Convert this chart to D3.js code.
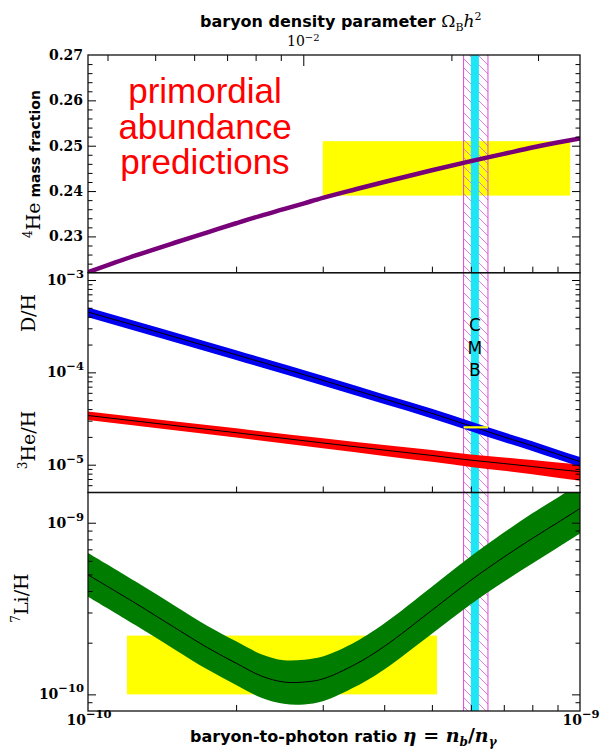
<!DOCTYPE html>
<html>
<head>
<meta charset="utf-8">
<script src="https://cdn.jsdelivr.net/npm/d3@7"></script>
<style>
  html, body { margin: 0; padding: 0; background: #fff; }
  svg { display: block; }
</style>
</head>
<body>
<svg id="chart" width="602" height="753"></svg>
<script>
// ---- Data (baryon-to-photon ratio in units of 1e-10) ----
const etaHe = [1, 1.25, 1.5, 1.75, 2, 2.25, 2.5, 2.75, 3, 3.5, 4, 5, 6, 7, 8, 9, 10];
const heYp  = [0.2221, 0.2258, 0.2286, 0.2309, 0.2329, 0.2346, 0.2360, 0.2373, 0.2385,
               0.2404, 0.2420, 0.2446, 0.2466, 0.2482, 0.2496, 0.2507, 0.2516];

const etaCoarse = [1, 2, 3, 4, 5, 6, 7, 8, 9, 10];
const dhValues  = [4.5e-4, 1.55e-4, 8.2e-5, 5.15e-5, 3.6e-5, 2.62e-5, 2.0e-5, 1.6e-5, 1.3e-5, 1.08e-5];
const dhRelErr  = [0.12, 0.12, 0.12, 0.12, 0.12, 0.12, 0.12, 0.12, 0.12, 0.12];
const he3Values = [3.41e-5, 2.22e-5, 1.72e-5, 1.44e-5, 1.26e-5, 1.12e-5, 1.03e-5, 9.55e-6, 8.9e-6, 8.4e-6];
const he3RelErr = [0.105, 0.115, 0.125, 0.135, 0.145, 0.155, 0.165, 0.175, 0.19, 0.2];

const etaLi    = [1, 1.25, 1.5, 1.75, 2, 2.25, 2.5, 2.75, 3, 3.5, 4, 5, 6, 7, 8, 9, 10];
const liValues = [4.97e-10, 3.39e-10, 2.45e-10, 1.87e-10, 1.52e-10, 1.28e-10, 1.18e-10, 1.18e-10,
                  1.23e-10, 1.5e-10, 1.9e-10, 3.09e-10, 4.62e-10, 6.3e-10, 8.1e-10, 1.0e-9, 1.21e-9];
const liFactor = [1.34, 1.34, 1.34, 1.34, 1.34, 1.34, 1.34, 1.35, 1.35, 1.35, 1.36, 1.37, 1.38, 1.39, 1.4, 1.4, 1.4];

// Observed abundance ranges
const heBoxEta = [3.0, 9.55],  heBoxY = [0.239, 0.251];
const liBoxEta = [1.2, 5.12],  liBoxY = [1.0e-10, 2.2e-10];
const dhObsY   = [2.47e-5, 2.61e-5];

// CMB measurement and concordance range
const cmbEta    = [6.0, 6.23];
const concEta   = [5.8, 6.5];
const cmbLetters = ["C", "M", "B"];

// Ticks
const heTickLabels = [0.23, 0.24, 0.25, 0.26, 0.27];
const dhExponents  = [-3, -4, -5];
const liExponents  = [-9, -10];
const etaExponents = [-10, -9];
const omegaMinor   = [0.004, 0.005, 0.006, 0.007, 0.008, 0.009, 0.02, 0.03];
const omegaMajor   = [0.01];
const etaPerOmega  = 273.9e-10;   // eta = 273.9e-10 * Omega_B h^2

// ---- Layout ----
const left = 88, right = 580;
const panels = [
  { top: 55,    bot: 272.7 },
  { top: 272.7, bot: 492.5 },
  { top: 492.5, bot: 711 }
];
const SERIF = '"DejaVu Serif", serif';
const SANS  = '"DejaVu Sans", sans-serif';

const svg = d3.select("#chart");

const x = d3.scaleLog().domain([1e-10, 1e-9]).range([left, right]);
const xOmega = d3.scaleLog().domain([1e-10 / etaPerOmega, 1e-9 / etaPerOmega]).range([left, right]);
const yHe = d3.scaleLinear().domain([0.222, 0.27]).range([panels[0].bot, panels[0].top]);
const yDH = d3.scaleLog().domain([5e-6, 1.2e-3]).range([panels[1].bot, panels[1].top]);
const yLi = d3.scaleLog().domain([8e-11, 1.5e-9]).range([panels[2].bot, panels[2].top]);
const ex = e => x(e * 1e-10);

// ---- Defs ----
const defs = svg.append("defs");
panels.forEach((p, i) => {
  defs.append("clipPath").attr("id", "clip" + i)
    .append("rect").attr("x", left).attr("y", p.top)
    .attr("width", right - left).attr("height", p.bot - p.top);
});
const pat = defs.append("pattern").attr("id", "hatch")
  .attr("patternUnits", "userSpaceOnUse").attr("width", 9).attr("height", 9);
pat.append("path").attr("d", "M0,0L9,9M-2,7L2,11M7,-2L11,2")
  .attr("stroke", "#e46ae4").attr("stroke-width", 0.9).attr("fill", "none");

const layer = i => svg.append("g").attr("clip-path", `url(#clip${i})`);

// ---- Observation boxes ----
layer(0).append("rect")
  .attr("x", ex(heBoxEta[0])).attr("width", ex(heBoxEta[1]) - ex(heBoxEta[0]))
  .attr("y", yHe(heBoxY[1])).attr("height", yHe(heBoxY[0]) - yHe(heBoxY[1]))
  .attr("fill", "#ffff00");
layer(2).append("rect")
  .attr("x", ex(liBoxEta[0])).attr("width", ex(liBoxEta[1]) - ex(liBoxEta[0]))
  .attr("y", yLi(liBoxY[1])).attr("height", yLi(liBoxY[0]) - yLi(liBoxY[1]))
  .attr("fill", "#ffff00");

// ---- CMB / concordance bands ----
const bandTop = panels[0].top, bandBot = panels[2].bot;
svg.append("rect").attr("x", ex(concEta[0])).attr("width", ex(concEta[1]) - ex(concEta[0]))
  .attr("y", bandTop).attr("height", bandBot - bandTop).attr("fill", "url(#hatch)");
concEta.forEach(e => {
  svg.append("line").attr("x1", ex(e)).attr("x2", ex(e)).attr("y1", bandTop).attr("y2", bandBot)
    .attr("stroke", "#dd44dd").attr("stroke-width", 1);
});
svg.append("rect").attr("x", ex(cmbEta[0])).attr("width", ex(cmbEta[1]) - ex(cmbEta[0]))
  .attr("y", bandTop).attr("height", bandBot - bandTop).attr("fill", "#1ee6f4");

// ---- Prediction bands ----
function bandRows(etas, vals, lo, hi) {
  return etas.map((e, i) => ({ e, v: vals[i], lo: lo(vals[i], i), hi: hi(vals[i], i) }));
}
const dhRows  = bandRows(etaCoarse, dhValues, (v, i) => v * (1 - dhRelErr[i]), (v, i) => v * (1 + dhRelErr[i]));
const he3Rows = bandRows(etaCoarse, he3Values, (v, i) => v * (1 - he3RelErr[i]), (v, i) => v * (1 + he3RelErr[i]));
const liRows  = bandRows(etaLi, liValues, (v, i) => v / liFactor[i], (v, i) => v * liFactor[i]);

function drawBand(g, rows, y, fill, curve) {
  const c = curve || d3.curveMonotoneX;
  g.append("path").datum(rows)
    .attr("d", d3.area().x(d => ex(d.e)).y0(d => y(d.lo)).y1(d => y(d.hi)).curve(c))
    .attr("fill", fill);
  g.append("path").datum(rows)
    .attr("d", d3.line().x(d => ex(d.e)).y(d => y(d.v)).curve(c))
    .attr("fill", "none").attr("stroke", "#000").attr("stroke-width", 1);
}

const g1 = layer(1);
drawBand(g1, he3Rows, yDH, "#ff0000");
drawBand(g1, dhRows, yDH, "#0000f0");
g1.append("rect").attr("x", ex(concEta[0])).attr("width", ex(concEta[1]) - ex(concEta[0]))
  .attr("y", yDH(dhObsY[1])).attr("height", yDH(dhObsY[0]) - yDH(dhObsY[1]))
  .attr("fill", "#ffff00");

const g2 = layer(2);
drawBand(g2, liRows, yLi, "#007d00", d3.curveCatmullRom.alpha(0.5));

layer(0).append("path").datum(etaHe.map((e, i) => ({ e, v: heYp[i] })))
  .attr("d", d3.line().x(d => ex(d.e)).y(d => yHe(d.v)).curve(d3.curveMonotoneX))
  .attr("fill", "none").attr("stroke", "#780078").attr("stroke-width", 4.5);

// ---- CMB letters ----
cmbLetters.forEach((c, i) => {
  svg.append("text").attr("x", ex(Math.sqrt(cmbEta[0] * cmbEta[1]))).attr("y", 331 + i * 22.5)
    .attr("text-anchor", "middle").attr("font-family", SANS)
    .attr("font-size", 17).attr("fill", "#000").text(c);
});

// ---- Red annotation ----
["primordial", "abundance", "predictions"].forEach((s, i) => {
  svg.append("text").attr("x", 205).attr("y", 103 + i * 35.5)
    .attr("text-anchor", "middle").attr("font-family", '"Liberation Sans", Arial, sans-serif')
    .attr("font-size", 35).attr("fill", "#ff0000").text(s);
});

// ---- Axes (ticks pointing inward) ----
function ticksGroup(axis, tx, ty) {
  const g = svg.append("g").attr("transform", `translate(${tx},${ty})`).call(axis);
  g.select(".domain").remove();
  g.selectAll("line").attr("stroke", "#000").attr("stroke-width", 1);
  return g;
}
function logMinors(scale) {
  const [a, b] = scale.domain();
  const out = [];
  for (let p = Math.floor(Math.log10(a)); p <= Math.ceil(Math.log10(b)); p++) {
    for (let m = 2; m <= 9; m++) {
      const v = m * Math.pow(10, p);
      if (v > a * 1.0001 && v < b * 0.9999) out.push(v);
    }
  }
  return out;
}
function logMajors(scale) {
  const [a, b] = scale.domain();
  const out = [];
  for (let p = Math.ceil(Math.log10(a)); p <= Math.floor(Math.log10(b)); p++) out.push(Math.pow(10, p));
  return out;
}

const heMinor = d3.range(0.224, 0.2699, 0.002).filter(v => Math.abs(v * 100 - Math.round(v * 100)) > 1e-6);
const yAxes = [
  { y: yHe, major: heTickLabels.slice(0, 4), minor: heMinor },
  { y: yDH, major: logMajors(yDH), minor: logMinors(yDH) },
  { y: yLi, major: logMajors(yLi), minor: logMinors(yLi) }
];
yAxes.forEach(a => {
  ticksGroup(d3.axisLeft(a.y).tickValues(a.major).tickSize(-8).tickFormat(""), left, 0);
  ticksGroup(d3.axisLeft(a.y).tickValues(a.minor).tickSize(-4.5).tickFormat(""), left, 0);
  ticksGroup(d3.axisRight(a.y).tickValues(a.major).tickSize(-8).tickFormat(""), right, 0);
  ticksGroup(d3.axisRight(a.y).tickValues(a.minor).tickSize(-4.5).tickFormat(""), right, 0);
});
const etaMinor = logMinors(x);
panels.forEach(p => {
  ticksGroup(d3.axisBottom(x).tickValues(etaMinor).tickSize(-6).tickFormat(""), 0, p.bot);
});
ticksGroup(d3.axisTop(xOmega).tickValues(omegaMinor).tickSize(-6).tickFormat(""), 0, panels[0].top);
ticksGroup(d3.axisTop(xOmega).tickValues(omegaMajor).tickSize(-11).tickFormat(""), 0, panels[0].top);

// frames
panels.forEach(p => {
  svg.append("rect").attr("x", left).attr("y", p.top).attr("width", right - left).attr("height", p.bot - p.top)
    .attr("fill", "none").attr("stroke", "#111").attr("stroke-width", 1.3);
});

// ---- Tick labels ----
function powText(px, py, exp, anchor, weight, supDy, supSize) {
  const t = svg.append("text").attr("x", px).attr("y", py).attr("text-anchor", anchor)
    .attr("font-family", SERIF).attr("font-size", 14).attr("font-weight", weight).attr("fill", "#000");
  t.append("tspan").text("10");
  t.append("tspan").attr("dy", supDy || -7).attr("font-size", supSize || 11.5).text("\u2212" + Math.abs(exp));
  return t;
}
heTickLabels.forEach(v => {
  svg.append("text").attr("x", 83).attr("y", yHe(v) + 5).attr("text-anchor", "end")
    .attr("font-family", SERIF).attr("font-size", 14).attr("font-weight", "bold").text(v.toFixed(2));
});
dhExponents.forEach(e => powText(84, yDH(Math.pow(10, e)) + 5, e, "end", "bold"));
liExponents.forEach(e => powText(84, yLi(Math.pow(10, e)) + 5, e, "end", "bold"));
etaExponents.forEach(e => powText(x(Math.pow(10, e)) + 1, 725, e, "middle", "bold"));
powText(xOmega(omegaMajor[0]), 46, -2, "middle", "normal", -5, 10);

// ---- Axis titles ----
const topTitle = svg.append("text").attr("x", 200).attr("y", 27).attr("font-size", 16).attr("fill", "#000");
topTitle.append("tspan").attr("font-family", SANS).attr("font-weight", "bold")
  .text("baryon density parameter ");
topTitle.append("tspan").attr("font-family", SERIF).attr("font-size", 17).text("\u03A9");
topTitle.append("tspan").attr("font-family", SERIF).attr("font-size", 11).attr("dy", 4).text("B");
topTitle.append("tspan").attr("font-family", SERIF).attr("font-size", 17).attr("font-style", "italic").attr("dy", -4).text("h");
topTitle.append("tspan").attr("font-family", SERIF).attr("font-size", 11).attr("dy", -7).text("2");

const botTitle = svg.append("text").attr("x", 190).attr("y", 742).attr("font-size", 16).attr("fill", "#000");
botTitle.append("tspan").attr("font-family", SANS).attr("font-weight", "bold")
  .text("baryon-to-photon ratio ");
const mathB = (txt, size, italic, dy) => {
  const s = botTitle.append("tspan").attr("font-family", SERIF).attr("font-size", size)
    .attr("font-weight", "bold").text(txt);
  if (italic) s.attr("font-style", "italic");
  if (dy) s.attr("dy", dy);
};
mathB("\u03B7", 19, true);
mathB(" = ", 19, false);
mathB("n", 19, true);
mathB("b", 12, true, 4);
mathB("/", 19, false, -4);
mathB("n", 19, true);
mathB("\u03B3", 12, true, 4);

function yTitle(bx, cy, parts) {
  const t = svg.append("text").attr("transform", `translate(${bx},${cy}) rotate(-90)`)
    .attr("text-anchor", "middle").attr("fill", "#000");
  parts.forEach(p => {
    const s = t.append("tspan").text(p.text)
      .attr("font-family", p.sans ? SANS : SERIF)
      .attr("font-size", p.size || 19);
    if (p.sans) s.attr("font-weight", "bold");
    if (p.dy) s.attr("dy", p.dy);
  });
}
yTitle(40, 164, [{ text: "4", size: 12, dy: -8 }, { text: "He", dy: 8 }, { text: " mass fraction", sans: true, size: 14 }]);
yTitle(35, 313, [{ text: "D/H" }]);
yTitle(35, 440, [{ text: "3", size: 12, dy: -8 }, { text: "He/H", dy: 8 }]);
yTitle(28, 598, [{ text: "7", size: 12, dy: -8 }, { text: "Li/H", dy: 8 }]);
</script>
</body>
</html>
